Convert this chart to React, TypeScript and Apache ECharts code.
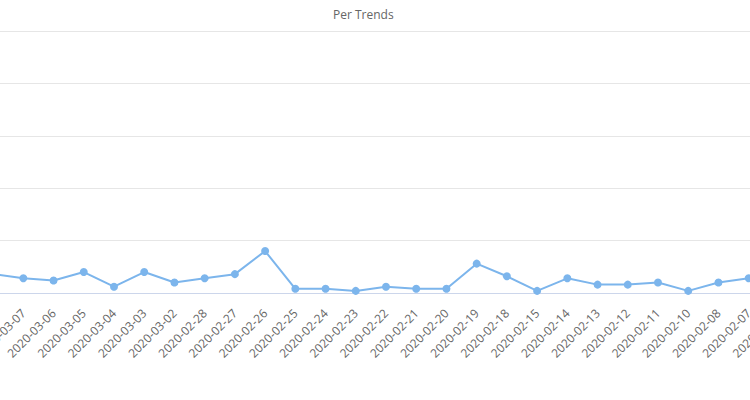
import React, { useEffect, useRef } from "react";
import * as echarts from "echarts";

const categories = [
  "2020-03-08", "2020-03-07", "2020-03-06", "2020-03-05", "2020-03-04", "2020-03-03",
  "2020-03-02", "2020-02-28", "2020-02-27", "2020-02-26", "2020-02-25", "2020-02-24",
  "2020-02-23", "2020-02-22", "2020-02-21", "2020-02-20", "2020-02-19", "2020-02-18",
  "2020-02-15", "2020-02-14", "2020-02-13", "2020-02-12", "2020-02-11", "2020-02-10",
  "2020-02-08", "2020-02-07", "2020-02-06",
];
const values = [
  9, 7, 6, 10, 3, 10,
  5, 7, 9, 20, 2, 2,
  1, 3, 2, 2, 14, 8,
  1, 7, 4, 4, 5, 1,
  5, 7, 6,
];

const OFFSET = 22;
const CHART_W = 816;

export default function App() {
  const ref = useRef<HTMLDivElement>(null);
  useEffect(() => {
    if (!ref.current) return;
    const chart = echarts.init(ref.current, undefined, { renderer: "svg" });
    chart.setOption({
      animation: false,
      backgroundColor: "#ffffff",
      title: {
        text: "Per Trends",
        left: 328 + OFFSET,
        top: 3,
        textStyle: { fontSize: 12, fontWeight: "normal", color: "#666666", fontFamily: "Open Sans" },
      },
      grid: { left: 0, right: 0, top: 31, bottom: 107, containLabel: false, outerBoundsMode: "none" },
      xAxis: {
        type: "category",
        data: categories,
        boundaryGap: true,
        axisLine: { lineStyle: { color: "#ccd6eb", width: 1 } },
        axisTick: { length: 10, lineStyle: { color: "#ccd6eb" } },
        axisLabel: {
          rotate: 45,
          interval: 0,
          margin: 18,
          color: "#666666",
          fontSize: 12,
          fontFamily: "Open Sans",
        },
      },
      yAxis: {
        type: "value",
        min: 0,
        max: 125,
        interval: 25,
        axisLabel: { show: false },
        axisLine: { show: false },
        axisTick: { show: false },
        splitLine: { lineStyle: { color: "#e6e6e6" } },
      },
      series: [
        {
          type: "line",
          data: values,
          symbol: "circle",
          symbolSize: 8,
          itemStyle: { color: "#7cb5ec" },
          lineStyle: { color: "#7cb5ec", width: 2 },
        },
      ],
    });
    return () => chart.dispose();
  }, []);
  return (
    <div style={{ position: "absolute", left: 0, top: 0, width: 750, height: 400, overflow: "hidden", background: "#fff" }}>
      <div ref={ref} style={{ width: CHART_W, height: 400, position: "absolute", left: -OFFSET, top: 0 }} />
    </div>
  );
}
